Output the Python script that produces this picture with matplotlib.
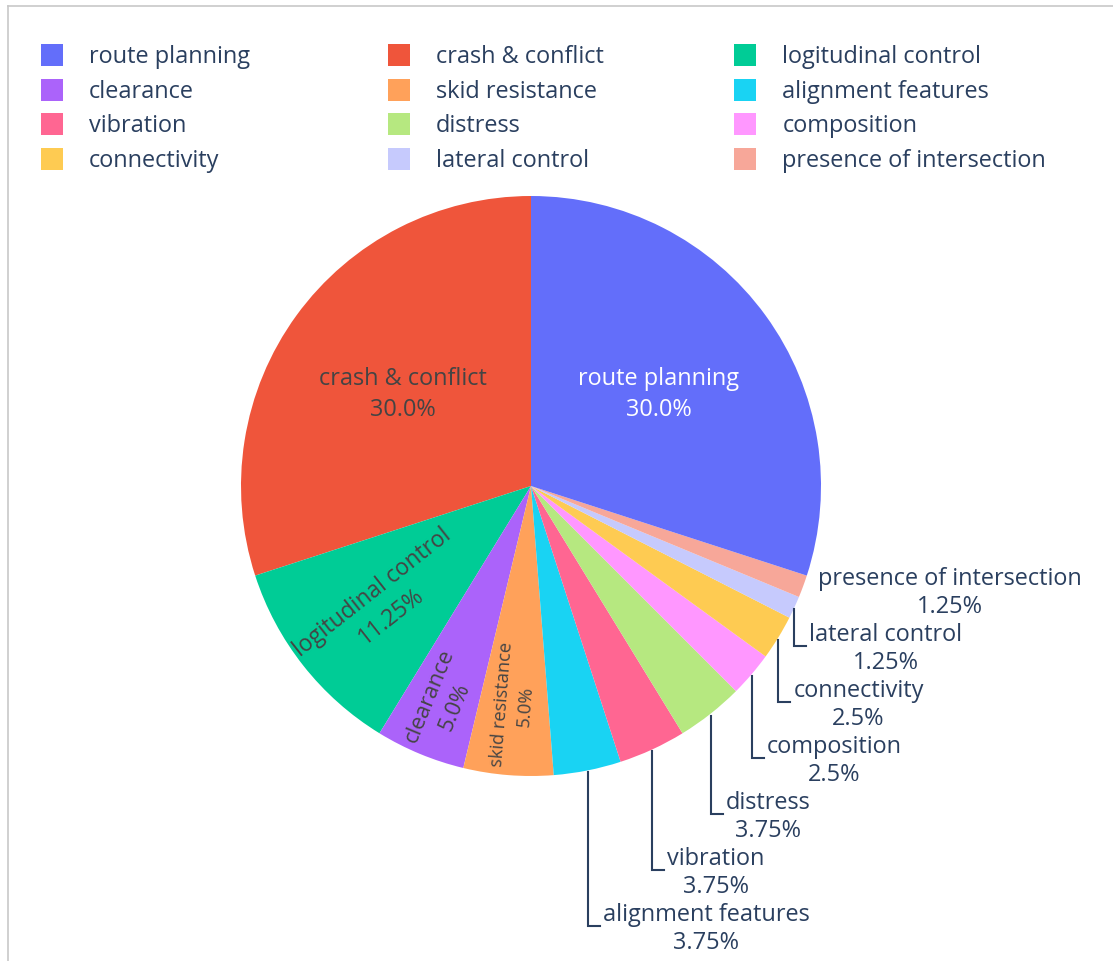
import numpy as np
import matplotlib
matplotlib.use("Agg")
import matplotlib.pyplot as plt
from matplotlib.patches import Rectangle
from matplotlib.lines import Line2D
from matplotlib.transforms import Affine2D

plt.rcParams['font.family'] = ['Open Sans', 'DejaVu Sans']

# ---- data --------------------------------------------------------------------
labels = ["route planning", "crash & conflict", "logitudinal control",
          "clearance", "skid resistance", "alignment features",
          "vibration", "distress", "composition", "connectivity",
          "lateral control", "presence of intersection"]
values = [30.0, 30.0, 11.25, 5.0, 5.0, 3.75, 3.75, 3.75, 2.5, 2.5, 1.25, 1.25]
colors = ["#636EFA", "#EF553B", "#00CC96", "#AB63FA", "#FFA15A", "#19D3F3",
          "#FF6692", "#B6E880", "#FF97FF", "#FECB52", "#C6CAFD", "#F7A799"]

# labels drawn inside their slice: (radius fraction, font scale, radial?)
inside = {"route planning": (0.545, 1.0, False),
          "crash & conflict": (0.545, 1.0, False),
          "logitudinal control": (0.655, 0.97, True),
          "clearance": (0.80, 0.95, True),
          "skid resistance": (0.755, 0.78, True)}
# labels drawn outside, stacked from the top down
outside = ["presence of intersection", "lateral control", "connectivity",
           "composition", "distress", "vibration", "alignment features"]

W, H = 1113, 962
CX, CY, R = 531, 487, 290
TXT = "#2a3f5f"
FS = 16.9


def pct(v):
    s = f"{v:.2f}".rstrip("0")
    if s.endswith("."):
        s += "0"
    return s + "%"


fig = plt.figure(figsize=(W / 100, H / 100), dpi=100)
pix = Affine2D().scale(1, -1).translate(0, H)  # pixel coords, y from top

# frame lines at top and left
fig.add_artist(Line2D([8, W], [7, 7], transform=pix, color="#c8c8c8", lw=1.2))
fig.add_artist(Line2D([8, 8], [7, H], transform=pix, color="#c8c8c8", lw=1.2))

# ---- pie -----------------------------------------------------------------------
order = labels[1:] + labels[:1]
vals = [values[labels.index(l)] for l in order]
cols = [colors[labels.index(l)] for l in order]
total = sum(values)

ax = fig.add_axes([(CX - R) / W, 1 - (CY + R) / H, 2 * R / W, 2 * R / H])
wedges, _ = ax.pie(vals, colors=cols, startangle=90, counterclock=True,
                   radius=1, wedgeprops=dict(linewidth=0))
ax.set_xlim(-1, 1)
ax.set_ylim(-1, 1)
ax.axis("off")

mids = {}
for lab, w in zip(order, wedges):
    mids[lab] = np.deg2rad((w.theta1 + w.theta2) / 2)

for lab, (r, scale, radial) in inside.items():
    a = mids[lab]
    v = values[labels.index(lab)]
    rot = np.rad2deg(a) - 180 if radial else 0
    col = "white" if lab == "route planning" else "#444444"
    ax.text(r * np.cos(a), r * np.sin(a), f"{lab}\n{pct(v / total * 100)}",
            ha="center", va="center", rotation=rot, rotation_mode="anchor",
            multialignment="center", fontsize=FS * scale, color=col,
            linespacing=1.4)

# ---- outside labels with elbow leaders -----------------------------------------------
renderer = fig.canvas.get_renderer()
for k, lab in enumerate(outside):
    a = mids[lab]
    sx = CX + R * np.cos(a)
    sy = CY - R * np.sin(a)
    ty = 579 + 56 * k
    tx = sx + 15
    ey = ty + 12
    if ey > sy + 5:
        fig.add_artist(Line2D([sx, sx, tx - 3], [sy + 2, ey, ey], transform=pix,
                              color=TXT, lw=1.5, solid_joinstyle="miter"))
    t = fig.text(tx, ty, lab, transform=pix, ha="left", va="center",
                 fontsize=FS, color=TXT)
    bb = t.get_window_extent(renderer)
    v = values[labels.index(lab)]
    fig.text((bb.x0 + bb.x1) / 2, ty + 28, pct(v / total * 100), transform=pix,
             ha="center", va="center", fontsize=FS, color=TXT)

# ---- legend, three columns filled row by row --------------------------------------------
for i, (lab, c) in enumerate(zip(labels, colors)):
    row, colm = divmod(i, 3)
    x0 = 41 + 346.7 * colm
    y0 = 56 + 34.6 * row
    fig.add_artist(Rectangle((x0, y0 - 11), 22, 22, transform=pix,
                             facecolor=c, edgecolor="none"))
    fig.text(x0 + 48, y0 + 1, lab, transform=pix, ha="left", va="center",
             fontsize=FS, color=TXT)

fig.savefig("out.png", dpi=100)
